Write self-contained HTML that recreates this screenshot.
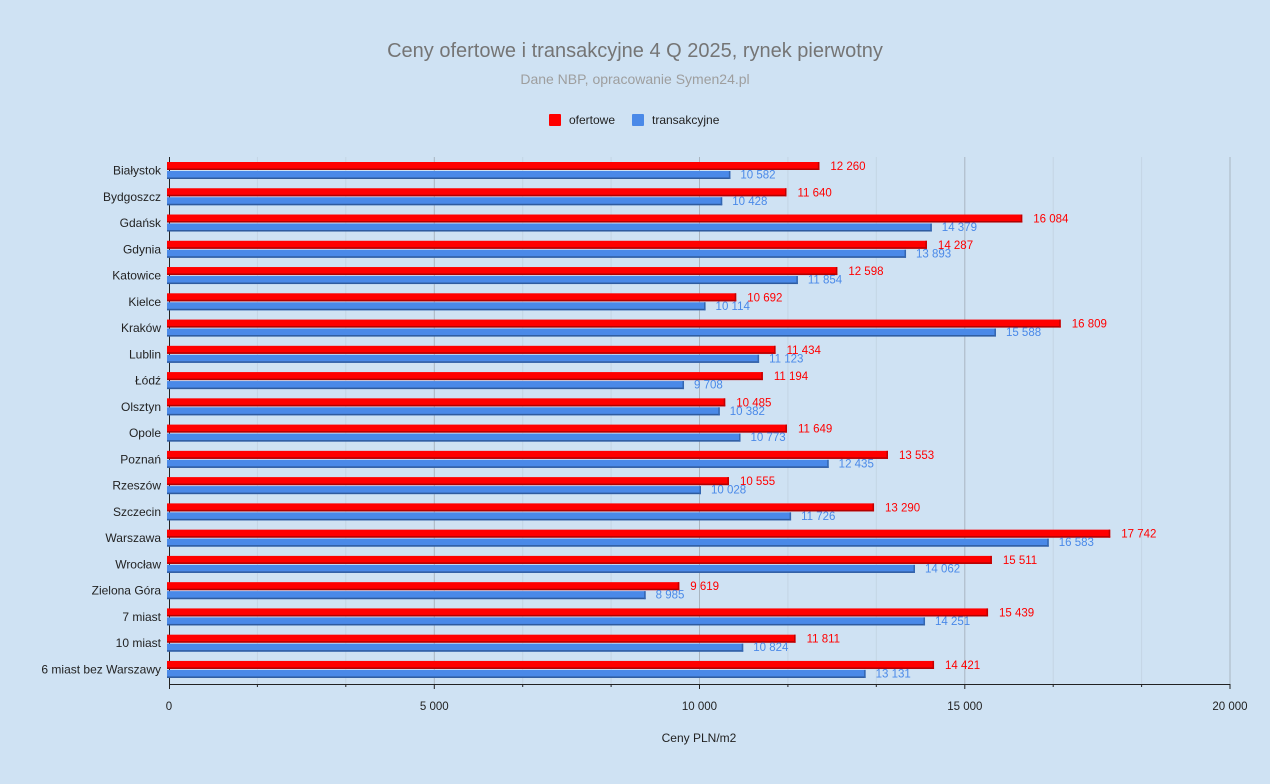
<!DOCTYPE html>
<html><head><meta charset="utf-8"><style>
html,body{margin:0;padding:0;background:#cfe2f3;}
svg{display:block;font-family:"Liberation Sans",Arial,sans-serif;}
</style></head><body>
<svg id="c" width="1270" height="784" xmlns="http://www.w3.org/2000/svg">
<rect width="1270" height="784" fill="#cfe2f3"/>
<text x="635" y="57" text-anchor="middle" font-size="20" fill="#757575">Ceny ofertowe i transakcyjne 4 Q 2025, rynek pierwotny</text>
<text x="635" y="84" text-anchor="middle" font-size="14" fill="#9e9e9e">Dane NBP, opracowanie Symen24.pl</text>
<rect x="549" y="114" width="12" height="12" rx="1" fill="#ff0000"/>
<text x="569" y="124" font-size="12" fill="#222">ofertowe</text>
<rect x="632" y="114" width="12" height="12" rx="1" fill="#4a89e8"/>
<text x="652" y="124" font-size="12" fill="#222">transakcyjne</text>
<g id="grid"></g>
<g id="bars"></g>
<text x="699" y="742" text-anchor="middle" font-size="12" fill="#222">Ceny PLN/m2</text>
</svg>
<script>
const d=[["Białystok",12260,10582],["Bydgoszcz",11640,10428],["Gdańsk",16084,14379],["Gdynia",14287,13893],["Katowice",12598,11854],["Kielce",10692,10114],["Kraków",16809,15588],["Lublin",11434,11123],["Łódź",11194,9708],["Olsztyn",10485,10382],["Opole",11649,10773],["Poznań",13553,12435],["Rzeszów",10555,10028],["Szczecin",13290,11726],["Warszawa",17742,16583],["Wrocław",15511,14062],["Zielona Góra",9619,8985],["7 miast",15439,14251],["10 miast",11811,10824],["6 miast bez Warszawy",14421,13131]];
const X=v=>169+v*1061/20000;
const fmt=n=>{let s=String(n);return s.length>3?s.slice(0,-3)+" "+s.slice(-3):s;};
let g="";
for(let k=1;k<=12;k++){const v=k*5000/3;const x=X(v).toFixed(1);const maj=k%3==0;
g+=`<line x1="${x}" y1="157" x2="${x}" y2="684" stroke="${maj?'#a9b5c0':'#c4d5e4'}" stroke-width="1"/>`;
g+=`<line x1="${x}" y1="684" x2="${x}" y2="${maj?689:687}" stroke="#222"/>`;
if(maj)g+=`<text x="${x}" y="710" text-anchor="middle" font-size="11.5" fill="#222">${fmt(Math.round(v))}</text>`;}
g+=`<text x="169" y="710" text-anchor="middle" font-size="11.5" fill="#222">0</text>`;
g+=`<line x1="169.5" y1="157" x2="169.5" y2="689" stroke="#222"/>`;
g+=`<line x1="169" y1="684.5" x2="1230" y2="684.5" stroke="#222"/>`;
document.getElementById("grid").innerHTML=g;
let b="";
d.forEach((r,i)=>{const t=162+i*26.26;const xr=X(r[1]),xb=X(r[2]);
b+=`<rect x="167" y="${t}" width="${xr-167}" height="8" fill="#ff0000"/><rect x="167" y="${t+6.5}" width="${xr-167}" height="1.5" fill="#b00000"/><rect x="${xr-1.5}" y="${t}" width="1.5" height="8" fill="#c00000"/>`;
b+=`<rect x="167" y="${t+9}" width="${xb-167}" height="8" fill="#4a89e8"/><rect x="167" y="${t+15.5}" width="${xb-167}" height="1.5" fill="#2f5b9e"/><rect x="${xb-1.5}" y="${t+9}" width="1.5" height="8" fill="#3466b0"/>`;
b+=`<text x="${xr+11}" y="${t+8}" font-size="11.5" fill="#ff0000">${fmt(r[1])}</text>`;
b+=`<text x="${xb+10}" y="${t+16.5}" font-size="11.5" fill="#4a89e8">${fmt(r[2])}</text>`;
b+=`<text x="161" y="${t+12.5}" text-anchor="end" font-size="12" fill="#222">${r[0]}</text>`;});
document.getElementById("bars").innerHTML=b;
</script>
</body></html>
